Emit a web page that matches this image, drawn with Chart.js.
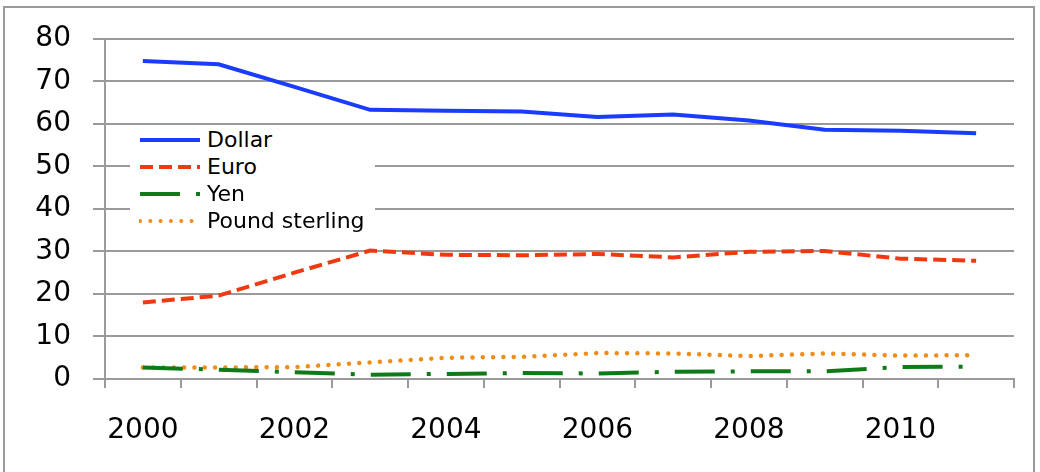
<!DOCTYPE html>
<html lang="en">
<head>
<meta charset="UTF-8">
<title>Currency shares</title>
<script src="https://cdn.jsdelivr.net/npm/chart.js"></script>
<style>
    body {
        margin: 0;
        background: #fff;
        font-family: "DejaVu Sans", sans-serif;
    }
    .frame {
        position: absolute;
        left: 3px;
        top: 6px;
        width: 1032px;
        height: 480px;
        border: 2px solid #9a9a9a;
        box-sizing: border-box;
    }
    .wrap {
        position: absolute;
        left: 0;
        top: 0;
        width: 1040px;
        height: 472px;
    }
    .legend {
        position: absolute;
        left: 130px;
        top: 127px;
        width: 245px;
        height: 105px;
        background: #fff;
    }
    .legend .row {
        position: absolute;
        left: 9px;
        height: 27px;
        display: flex;
        align-items: center;
        font-size: 22px;
        color: #000;
    }
    .legend svg {
        margin-right: 6px;
    }
</style>
</head>
<body>
<div class="frame"></div>
<div class="wrap">
    <canvas id="chart" width="1040" height="472"></canvas>
</div>
<div class="legend" id="legend"></div>

<script>
    const years = ['2000', '2001', '2002', '2003', '2004', '2005', '2006', '2007', '2008', '2009', '2010', '2011'];
    const dollar = [74.8, 74.0, 68.7, 63.3, 63.1, 62.9, 61.6, 62.2, 60.8, 58.6, 58.4, 57.8];
    const euro = [18.0, 19.6, 25.0, 30.2, 29.2, 29.1, 29.4, 28.6, 29.9, 30.1, 28.3, 27.8];
    const yen = [2.7, 2.2, 1.6, 1.0, 1.2, 1.4, 1.3, 1.7, 1.8, 1.8, 2.8, 2.9];
    const pound = [2.7, 2.7, 2.8, 3.9, 5.0, 5.2, 6.1, 6.0, 5.4, 6.0, 5.5, 5.6];
    const yTicks = [0, 10, 20, 30, 40, 50, 60, 70, 80];

    const series = [
        { label: 'Dollar', data: dollar, color: '#1a3cff', dash: [], cap: 'butt' },
        { label: 'Euro', data: euro, color: '#ee3a10', dash: [13, 6], cap: 'butt' },
        { label: 'Yen', data: yen, color: '#107a18', dash: [40, 16, 4, 16], cap: 'butt' },
        { label: 'Pound sterling', data: pound, color: '#f08c18', dash: [0.01, 10.3], cap: 'round' }
    ];

    const grey = '#9a9a9a';
    const tickFont = { family: 'DejaVu Sans', size: 28 };

    new Chart(document.getElementById('chart'), {
        type: 'line',
        data: {
            labels: years,
            datasets: series.map(s => ({
                label: s.label,
                data: s.data,
                borderColor: s.color,
                backgroundColor: s.color,
                borderWidth: s.cap === 'round' ? 4.5 : 4,
                borderDash: s.dash,
                borderCapStyle: s.cap,
                pointRadius: 0,
                tension: 0,
                fill: false
            }))
        },
        options: {
            responsive: false,
            animation: false,
            layout: { padding: { top: 36, right: 26, left: 0, bottom: 0 } },
            plugins: {
                legend: { display: false },
                tooltip: { enabled: false }
            },
            scales: {
                x: {
                    offset: true,
                    grid: { offset: true, drawOnChartArea: false, color: grey, lineWidth: 2, tickLength: 9 },
                    border: { color: grey, width: 2 },
                    ticks: {
                        autoSkip: false,
                        maxRotation: 0,
                        color: '#000',
                        font: tickFont,
                        padding: 26,
                        callback: function (v, i) { return i % 2 === 0 ? years[i] : ''; }
                    },
                    afterFit: function (scale) { scale.height = 93; }
                },
                y: {
                    min: 0,
                    max: 80,
                    afterBuildTicks: function (scale) { scale.ticks = yTicks.map(v => ({ value: v })); },
                    grid: { color: grey, lineWidth: 2, tickLength: 12 },
                    border: { color: grey, width: 2 },
                    ticks: { color: '#000', font: tickFont, padding: 22 },
                    afterFit: function (scale) { scale.width = 105; }
                }
            }
        }
    });

    // legend drawn in html so it can sit inside the plot
    const legend = document.getElementById('legend');
    series.forEach((s, i) => {
        const row = document.createElement('div');
        row.className = 'row';
        row.style.top = (i * 27 - 1) + 'px';
        const dash = s.dash.length ? s.dash.join(' ') : 'none';
        row.innerHTML = '<svg width="62" height="10"><line x1="1" y1="5" x2="61" y2="5" stroke="' + s.color +
            '" stroke-width="4" stroke-dasharray="' + dash + '" stroke-linecap="' + s.cap + '"/></svg>' +
            '<span>' + s.label + '</span>';
        legend.appendChild(row);
    });
</script>
</body>
</html>
